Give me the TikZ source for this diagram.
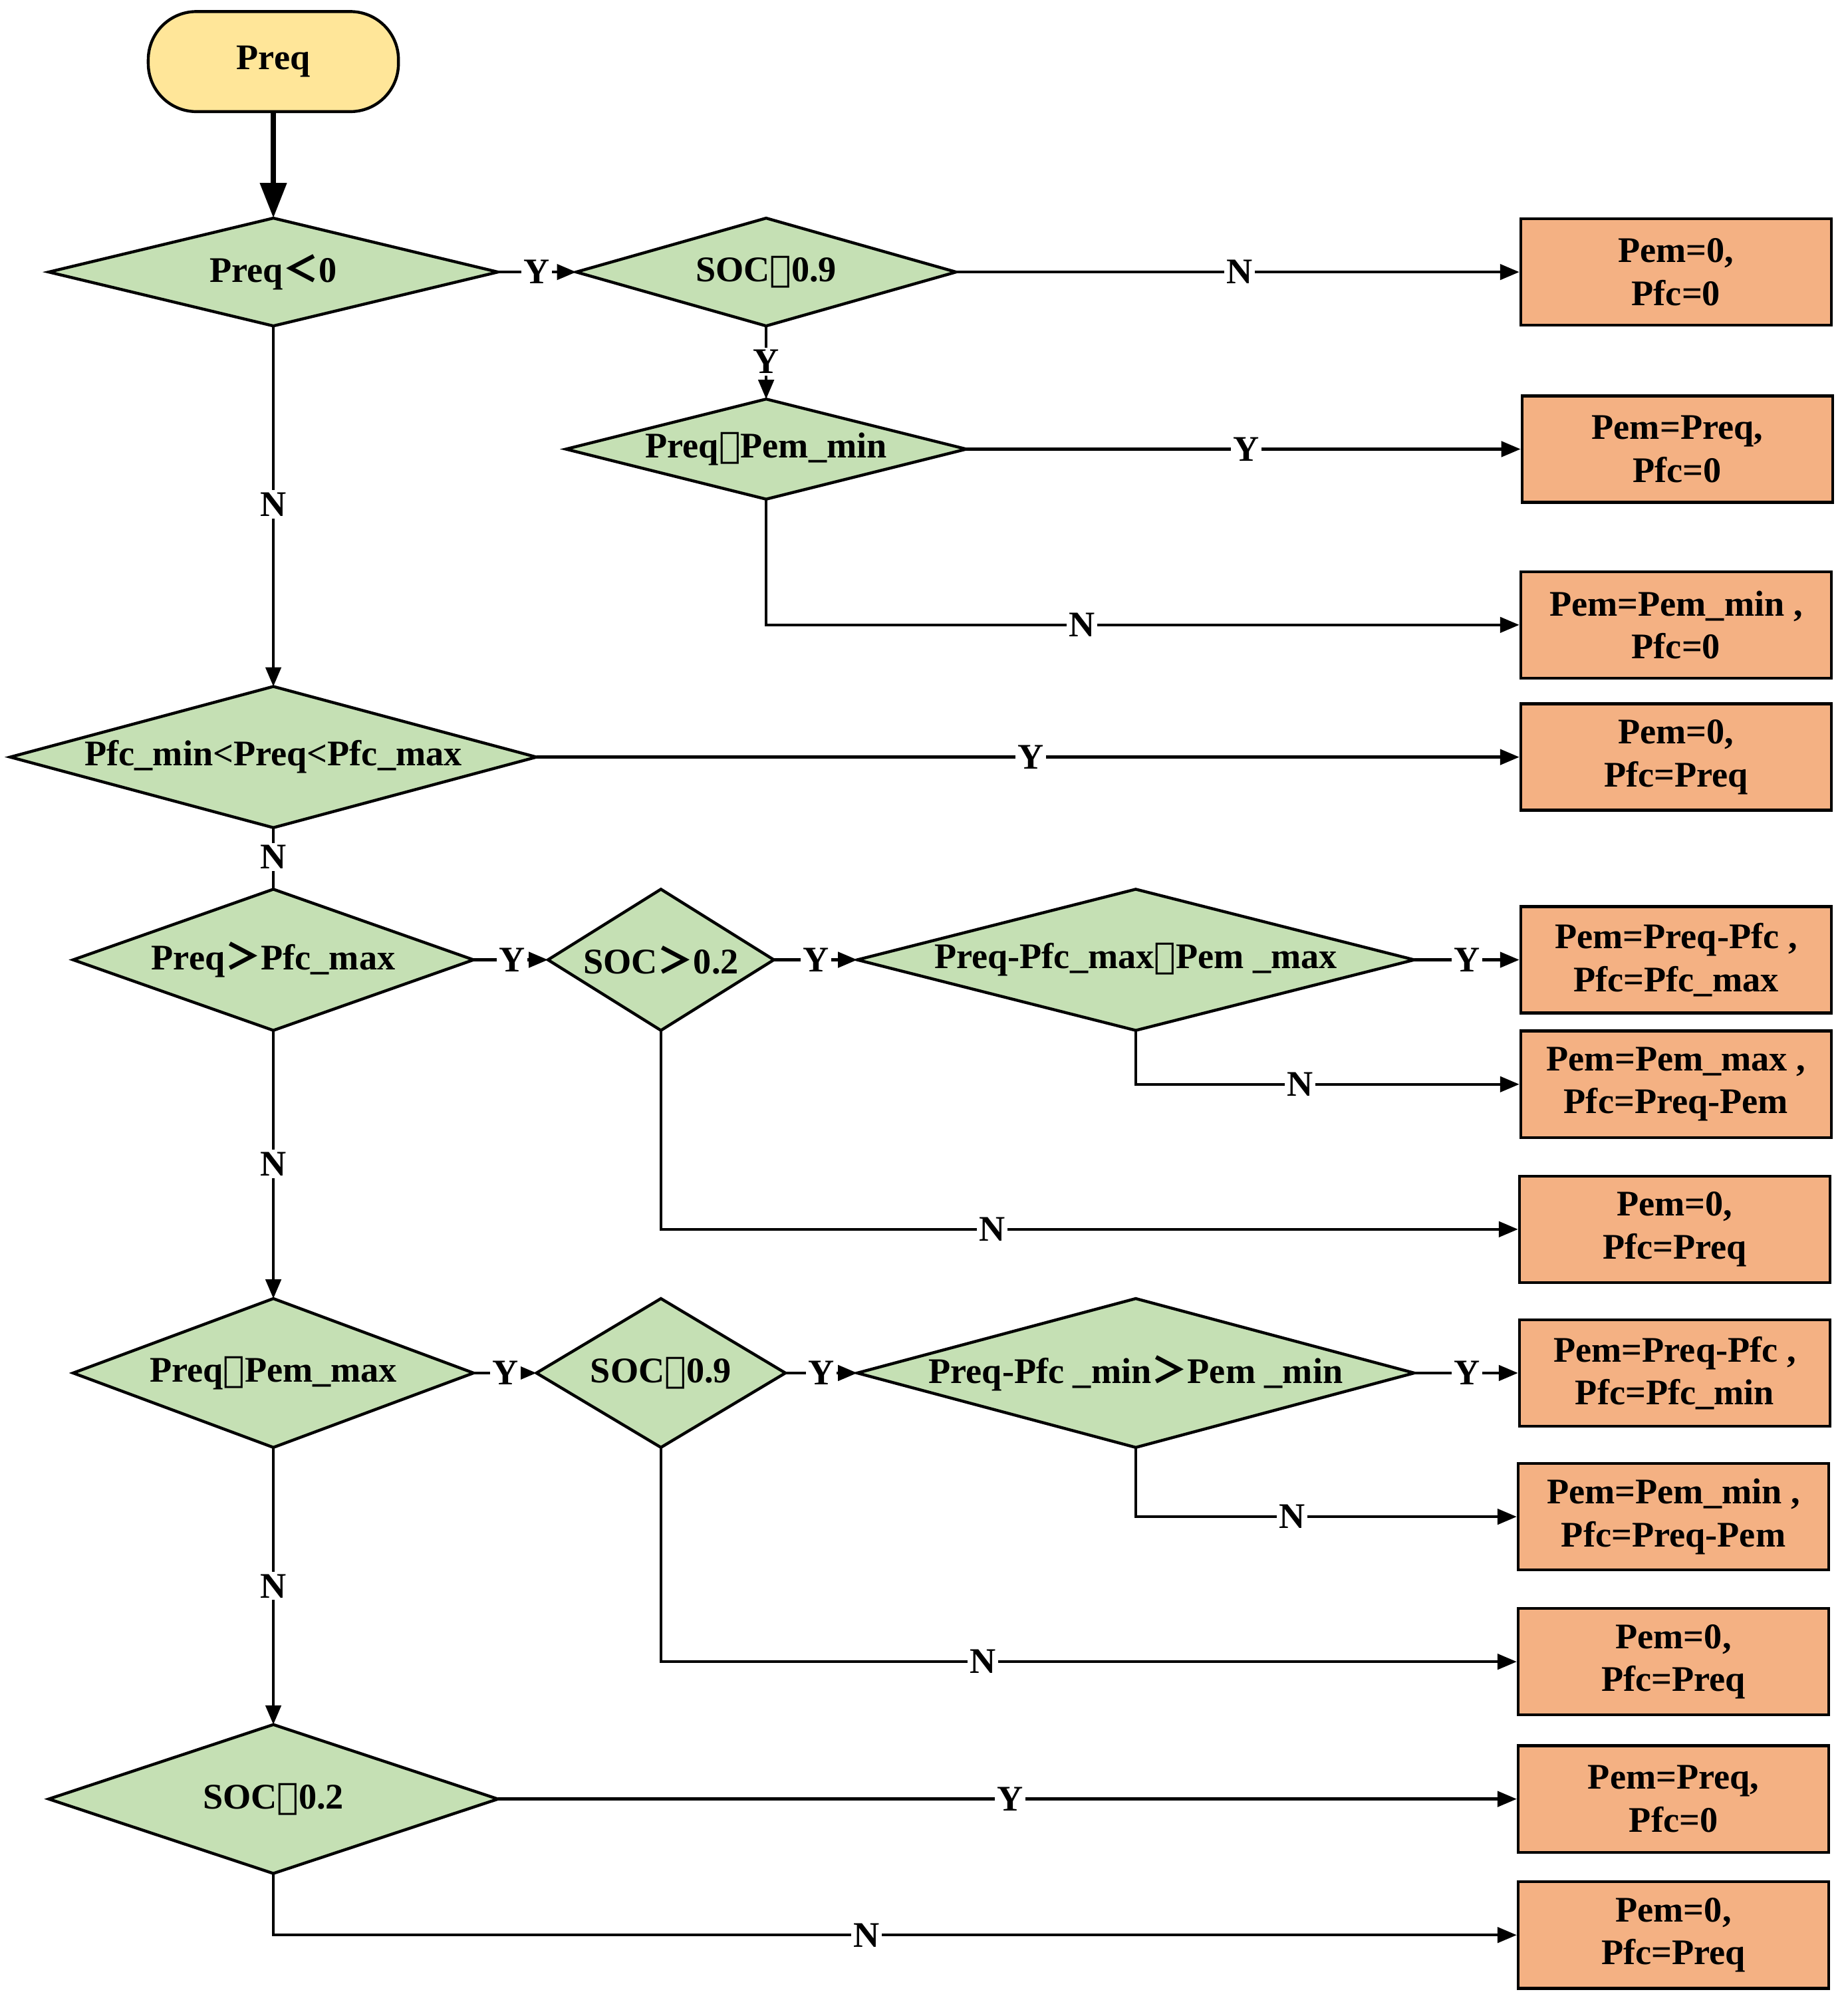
\documentclass[tikz,border=0pt]{standalone}
\usepackage{fontspec}
\setmainfont{Liberation Serif}
\newfontfamily\cjkf{Noto Sans CJK SC}
\newfontfamily\djvf{DejaVu Serif}
\usetikzlibrary{arrows.meta}
\newcommand\myLt{{\cjkf\bfseries ＜}}
\newcommand\myGt{{\cjkf\bfseries ＞}}
\newcommand\myLe{{\djvf\bfseries ⩽}}
\newcommand\myGe{{\djvf\bfseries ⩾}}
\definecolor{dgreen}{HTML}{C5E0B4}
\definecolor{rorange}{HTML}{F4B183}
\definecolor{syellow}{HTML}{FFE699}
\tikzset{
 txt/.style={font=\fontsize{16}{19}\selectfont\bfseries, inner sep=0pt},
 dfill/.style={draw=black, line width=1.3pt, fill=dgreen, line join=miter},
 box/.style={draw=black, line width=1.3pt, fill=rorange, minimum width=4.84cm, minimum height=1.66cm, align=center, font=\fontsize{16}{19}\selectfont\bfseries, inner sep=0pt},
 ln/.style={line width=1.3pt},
 arr/.style={line width=1.3pt, -{Triangle[length=0.3cm,width=0.24cm]}},
 lab/.style={fill=white, inner sep=1pt, font=\fontsize{16}{19}\selectfont\bfseries}
}
\newcommand\dia[6]{%
 \coordinate (#1-l) at ({#2-#4/2},#3);
 \coordinate (#1-r) at ({#2+#4/2},#3);
 \coordinate (#1-t) at (#2,{#3-#5/2});
 \coordinate (#1-b) at (#2,{#3+#5/2});
 \draw[dfill] (#1-l)--(#1-t)--(#1-r)--(#1-b)--cycle;
 \node[txt] (#1) at (#2,#3) {#6};}
\begin{document}
\begin{tikzpicture}[x=0.02cm,y=-0.02cm]
\useasboundingbox (0,0) rectangle (1440,1568);
\node[draw=black, line width=1.3pt, fill=syellow, rounded corners=0.75cm, minimum width=3.9cm, minimum height=1.56cm, font=\fontsize{16}{19}\selectfont\bfseries] (start) at (213,48) {Preq};
\dia{d1}{213}{212}{350}{84}{Preq\myLt0}
\dia{d2}{597}{212}{296}{84}{SOC\myLe0.9}
\dia{d3}{597}{350}{312}{78}{Preq\myGe Pem\_min}
\dia{d4}{213}{590}{410}{110}{Pfc\_min<Preq<Pfc\_max}
\dia{d5}{213}{748}{312}{110}{Preq\myGt Pfc\_max}
\dia{d6}{515}{748}{176}{110}{SOC\myGt0.2}
\dia{d7}{885}{748}{434}{110}{Preq-Pfc\_max\myLe Pem \_max}
\dia{d8}{213}{1070}{312}{116}{Preq\myGe Pem\_max}
\dia{d9}{515}{1070}{194}{116}{SOC\myLe0.9}
\dia{d10}{885}{1070}{434}{116}{Preq-Pfc \_min\myGt Pem \_min}
\dia{d11}{213}{1402}{350}{116}{SOC\myGe0.2}
\node[box] (r1) at (1306,212) {Pem=0,\\Pfc=0};
\node[box] (r2) at (1307,350) {Pem=Preq,\\Pfc=0};
\node[box] (r3) at (1306,487) {Pem=Pem\_min ,\\Pfc=0};
\node[box] (r4) at (1306,590) {Pem=0,\\Pfc=Preq};
\node[box] (r5) at (1306,748) {Pem=Preq-Pfc ,\\Pfc=Pfc\_max};
\node[box] (r6) at (1306,845) {Pem=Pem\_max ,\\Pfc=Preq-Pem};
\node[box] (r7) at (1305,958) {Pem=0,\\Pfc=Preq};
\node[box] (r8) at (1305,1070) {Pem=Preq-Pfc ,\\Pfc=Pfc\_min};
\node[box] (r9) at (1304,1182) {Pem=Pem\_min ,\\Pfc=Preq-Pem};
\node[box] (r10) at (1304,1295) {Pem=0,\\Pfc=Preq};
\node[box] (r11) at (1304,1402) {Pem=Preq,\\Pfc=0};
\node[box] (r12) at (1304,1508) {Pem=0,\\Pfc=Preq};
\draw[line width=2.6pt, -{Triangle[length=0.55cm,width=0.4cm]}] (start.south) -- (d1-t);
\draw[arr] (d1-r) -- (d2-l); \node[lab] at (418,212) {Y};
\draw[arr] (d2-r) -- (r1.west); \node[lab] at (966,212) {N};
\draw[arr] (d2-b) -- (d3-t); \node[lab] at (597,282) {Y};
\draw[arr] (d3-r) -- (r2.west); \node[lab] at (971,350) {Y};
\draw[arr] (d3-b) |- (r3.west); \node[lab] at (843,487) {N};
\draw[arr] (d1-b) -- (d4-t); \node[lab] at (213,393) {N};
\draw[arr] (d4-r) -- (r4.west); \node[lab] at (803,590) {Y};
\draw[ln] (d4-b) -- (d5-t); \node[lab] at (213,668) {N};
\draw[arr] (d5-r) -- (d6-l); \node[lab] at (399,748) {Y};
\draw[arr] (d6-r) -- (d7-l); \node[lab] at (636,748) {Y};
\draw[arr] (d7-r) -- (r5.west); \node[lab] at (1143,748) {Y};
\draw[arr] (d7-b) |- (r6.west); \node[lab] at (1013,845) {N};
\draw[arr] (d6-b) |- (r7.west); \node[lab] at (773,958) {N};
\draw[arr] (d5-b) -- (d8-t); \node[lab] at (213,907) {N};
\draw[arr] (d8-r) -- (d9-l); \node[lab] at (394,1070) {Y};
\draw[arr] (d9-r) -- (d10-l); \node[lab] at (640,1070) {Y};
\draw[arr] (d10-r) -- (r8.west); \node[lab] at (1143,1070) {Y};
\draw[arr] (d10-b) |- (r9.west); \node[lab] at (1007,1182) {N};
\draw[arr] (d9-b) |- (r10.west); \node[lab] at (766,1295) {N};
\draw[arr] (d8-b) -- (d11-t); \node[lab] at (213,1236) {N};
\draw[arr] (d11-r) -- (r11.west); \node[lab] at (787,1402) {Y};
\draw[arr] (d11-b) |- (r12.west); \node[lab] at (675,1508) {N};
\end{tikzpicture}
\end{document}
